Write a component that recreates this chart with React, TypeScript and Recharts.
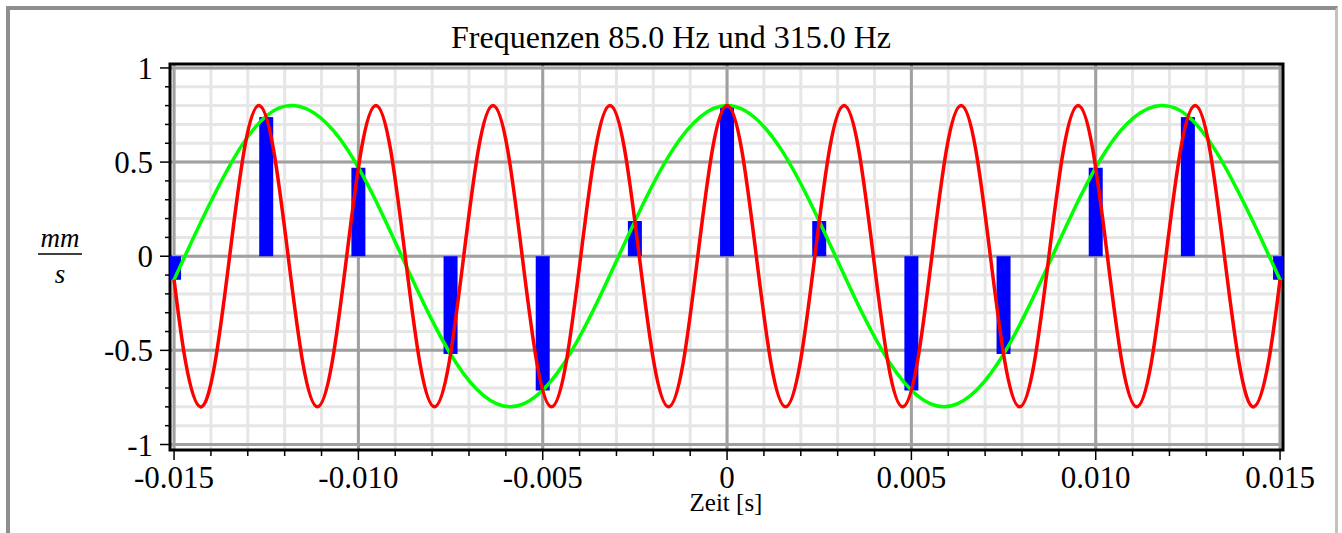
import React from "react";
import {
  ComposedChart,
  Bar,
  Line,
  XAxis,
  YAxis,
  CartesianGrid,
  ReferenceArea,
} from "recharts";

// ─── Daten ────────────────────────────────────────────────────────────────────
// Zeit in Millisekunden, Schnelle in mm/s

const X_DOMAIN: [number, number] = [-15.11, 15.08];
const Y_DOMAIN: [number, number] = [-1.0292, 1.021];

const xTicks = [
  -15, -14, -13, -12, -11, -10, -9, -8, -7, -6, -5, -4, -3, -2, -1, 0,
  1, 2, 3, 4, 5, 6, 7, 8, 9, 10, 11, 12, 13, 14, 15,
];
const xMajor = [-15, -10, -5, 0, 5, 10, 15];

const yTicks = [
  -1, -0.9, -0.8, -0.7, -0.6, -0.5, -0.4, -0.3, -0.2, -0.1, 0,
  0.1, 0.2, 0.3, 0.4, 0.5, 0.6, 0.7, 0.8, 0.9, 1,
];
const yMajor = [-1, -0.5, 0, 0.5, 1];

// 85 Hz
const greenPoints: [number, number][] = [
  [-15, -0.125], [-14.706, 0], [-13.235, 0.566], [-11.765, 0.8],
  [-10.294, 0.566], [-8.824, 0], [-7.353, -0.566], [-5.882, -0.8],
  [-4.412, -0.566], [-2.941, 0], [-1.471, 0.566], [0, 0.8],
  [1.471, 0.566], [2.941, 0], [4.412, -0.566], [5.882, -0.8],
  [7.353, -0.566], [8.824, 0], [10.294, 0.566], [11.765, 0.8],
  [13.235, 0.566], [14.706, 0], [15, -0.125],
];

// 315 Hz
const redPoints: [number, number][] = [
  [-15, -0.125], [-14.683, -0.566], [-14.286, -0.8], [-13.889, -0.566],
  [-13.492, 0], [-13.095, 0.566], [-12.698, 0.8], [-12.302, 0.566],
  [-11.905, 0], [-11.508, -0.566], [-11.111, -0.8], [-10.714, -0.566],
  [-10.317, 0], [-9.921, 0.566], [-9.524, 0.8], [-9.127, 0.566],
  [-8.73, 0], [-8.333, -0.566], [-7.937, -0.8], [-7.54, -0.566],
  [-7.143, 0], [-6.746, 0.566], [-6.349, 0.8], [-5.952, 0.566],
  [-5.556, 0], [-5.159, -0.566], [-4.762, -0.8], [-4.365, -0.566],
  [-3.968, 0], [-3.571, 0.566], [-3.175, 0.8], [-2.778, 0.566],
  [-2.381, 0], [-1.984, -0.566], [-1.587, -0.8], [-1.19, -0.566],
  [-0.794, 0], [-0.397, 0.566], [0, 0.8], [0.397, 0.566],
  [0.794, 0], [1.19, -0.566], [1.587, -0.8], [1.984, -0.566],
  [2.381, 0], [2.778, 0.566], [3.175, 0.8], [3.571, 0.566],
  [3.968, 0], [4.365, -0.566], [4.762, -0.8], [5.159, -0.566],
  [5.556, 0], [5.952, 0.566], [6.349, 0.8], [6.746, 0.566],
  [7.143, 0], [7.54, -0.566], [7.937, -0.8], [8.333, -0.566],
  [8.73, 0], [9.127, 0.566], [9.524, 0.8], [9.921, 0.566],
  [10.317, 0], [10.714, -0.566], [11.111, -0.8], [11.508, -0.566],
  [11.905, 0], [12.302, 0.566], [12.698, 0.8], [13.095, 0.566],
  [13.492, 0], [13.889, -0.566], [14.286, -0.8], [14.683, -0.566],
  [15, -0.125],
];

// Abtastwerte alle 2.5 ms
const sampleTimes = [-15, -12.5, -10, -7.5, -5, -2.5, 0, 2.5, 5, 7.5, 10, 12.5, 15];
const sampleValues = [
  -0.125, 0.739, 0.47, -0.519, -0.713, 0.187, 0.8, 0.187, -0.713, -0.519, 0.47, 0.739, -0.125,
];

const samples = sampleTimes.map((t, i) => ({ t, v: sampleValues[i] }));
const greenData = greenPoints.map(([t, v]) => ({ t, v }));
const redData = redPoints.map(([t, v]) => ({ t, v }));

// ─── Stile ────────────────────────────────────────────────────────────────────

const FONT = '"Liberation Serif", "Times New Roman", serif';
const MINOR_GRID = "#e6e6e6";
const MAJOR_GRID = "#a0a0a0";
const BAR_WIDTH = 14;

const fmtX = (v: number) => (v === 0 ? "0" : (v / 1000).toFixed(3));
const fmtY = (v: number) => String(v);

function XTick({ x, y, payload }: any) {
  const v = payload.value as number;
  const major = xMajor.includes(v);
  return (
    <g>
      <line x1={x} y1={y} x2={x} y2={y + (major ? 10 : 6)} stroke="#000" strokeWidth={1.5} />
      {major && (
        <text x={x} y={y + 38} textAnchor="middle" fontFamily={FONT} fontSize={31} fill="#000">
          {fmtX(v)}
        </text>
      )}
    </g>
  );
}

function YTick({ x, y, payload }: any) {
  const v = payload.value as number;
  const major = yMajor.includes(v);
  return (
    <g>
      <line x1={x} y1={y} x2={x - (major ? 10 : 5)} y2={y} stroke="#000" strokeWidth={1.5} />
      {major && (
        <text x={x - 17} y={y + 11} textAnchor="end" fontFamily={FONT} fontSize={31} fill="#000">
          {fmtY(v)}
        </text>
      )}
    </g>
  );
}

// Balken mittig auf dem Abtastzeitpunkt, feste Breite
function SampleBar({ x, y, width, height }: any) {
  if (x == null || y == null) return null;
  const cx = x + width / 2;
  const top = Math.min(y, y + height);
  const h = Math.abs(height);
  return <rect x={cx - BAR_WIDTH / 2} y={top} width={BAR_WIDTH} height={h} fill="#0000ff" />;
}

export default function App() {
  return (
    <div
      style={{
        position: "absolute",
        left: 0,
        top: 0,
        width: 1342,
        height: 533,
        overflow: "hidden",
        background: "#fff",
      }}
    >
      <div
        style={{
          position: "absolute",
          left: 6,
          top: 6,
          width: 1332,
          height: 600,
          boxSizing: "border-box",
          borderTop: "4px solid #8e8e8e",
          borderLeft: "4px solid #8e8e8e",
          borderRight: "3px solid #c2c2c2",
        }}
      />
      <div style={{ position: "absolute", left: 0, top: 0 }}>
        <ComposedChart
          width={1342}
          height={533}
          data={samples}
          margin={{ top: 64, right: 59, bottom: 23, left: 110 }}
        >
          {/* feines Raster, darüber das Hauptraster */}
          <CartesianGrid
            verticalValues={xTicks}
            horizontalValues={yTicks}
            stroke={MINOR_GRID}
            strokeWidth={3}
          />
          <CartesianGrid
            verticalValues={xMajor}
            horizontalValues={yMajor}
            stroke={MAJOR_GRID}
            strokeWidth={3}
          />

          <XAxis
            dataKey="t"
            type="number"
            domain={X_DOMAIN}
            allowDataOverflow
            ticks={xTicks}
            interval={0}
            tick={<XTick />}
            tickSize={0}
            tickMargin={0}
            tickLine={false}
            axisLine={false}
            height={60}
          />
          <YAxis
            type="number"
            domain={Y_DOMAIN}
            allowDataOverflow
            ticks={yTicks}
            interval={0}
            tick={<YTick />}
            tickSize={0}
            tickMargin={0}
            tickLine={false}
            axisLine={false}
            width={60}
          />

          <Bar dataKey="v" fill="#0000ff" shape={<SampleBar />} isAnimationActive={false} />
          <Line
            data={greenData}
            dataKey="v"
            type="natural"
            stroke="#00ff00"
            strokeWidth={3.5}
            dot={false}
            activeDot={false}
            isAnimationActive={false}
          />
          <Line
            data={redData}
            dataKey="v"
            type="natural"
            stroke="#ff0000"
            strokeWidth={3.5}
            dot={false}
            activeDot={false}
            isAnimationActive={false}
          />

          <ReferenceArea
            x1={X_DOMAIN[0]}
            x2={X_DOMAIN[1]}
            y1={Y_DOMAIN[0]}
            y2={Y_DOMAIN[1]}
            fill="none"
            fillOpacity={0}
            stroke="#000"
            strokeWidth={3}
          />
        </ComposedChart>
      </div>

      <svg
        width={1342}
        height={533}
        style={{ position: "absolute", left: 0, top: 0, pointerEvents: "none" }}
      >
        <text x={671} y={48} textAnchor="middle" fontFamily={FONT} fontSize={32} fill="#000">
          Frequenzen 85.0 Hz und 315.0 Hz
        </text>
        <text x={726} y={511} textAnchor="middle" fontFamily={FONT} fontSize={25} fill="#000">
          Zeit [s]
        </text>
        <text x={60} y={247} textAnchor="middle" fontFamily={FONT} fontStyle="italic" fontSize={27} fill="#000">
          mm
        </text>
        <line x1={38} y1={254} x2={82} y2={254} stroke="#000" strokeWidth={1.5} />
        <text x={60} y={283} textAnchor="middle" fontFamily={FONT} fontStyle="italic" fontSize={27} fill="#000">
          s
        </text>
      </svg>
    </div>
  );
}
